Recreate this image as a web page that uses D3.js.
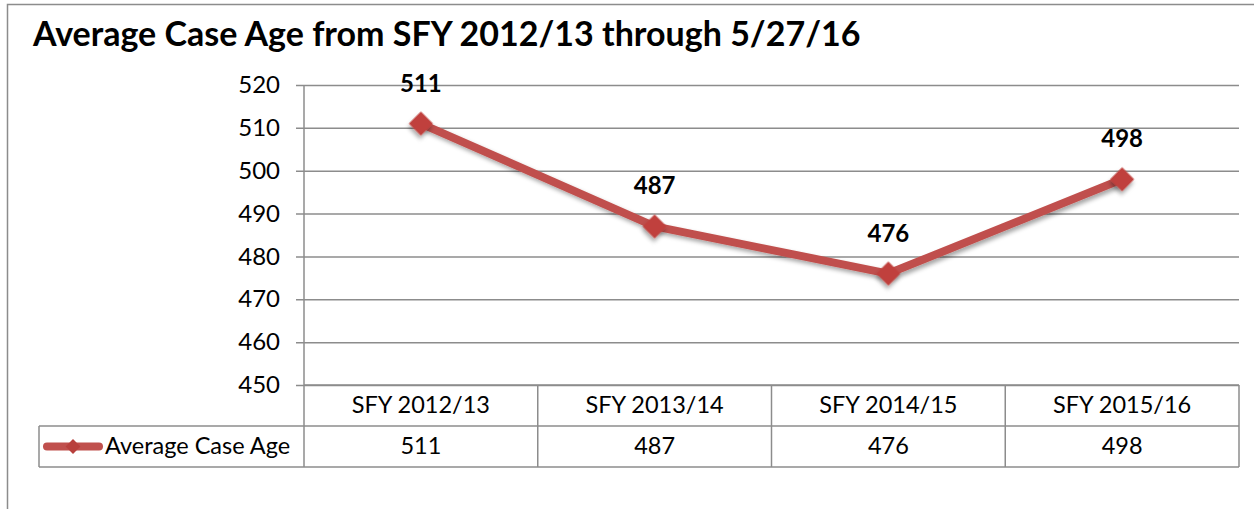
<!DOCTYPE html>
<html>
<head>
<meta charset="utf-8">
<script src="https://cdn.jsdelivr.net/npm/d3@7"></script>
<style>
  body { margin: 0; background: #fff; }
  svg { display: block; font-family: Lato, "Open Sans", sans-serif; }
</style>
</head>
<body>
<svg id="chart" width="1254" height="509"></svg>
<script>
// 数据
const title = "Average Case Age from SFY 2012/13 through 5/27/16";
const categories = ["SFY 2012/13", "SFY 2013/14", "SFY 2014/15", "SFY 2015/16"];
const seriesName = "Average Case Age";
const values = [511, 487, 476, 498];
const yTicks = [450, 460, 470, 480, 490, 500, 510, 520];

const svg = d3.select("#chart");
const lineColor = "#c0504d";
const gridColor = "#8c8c8c";
const tableFont = 23.5;

// 阴影
const defs = svg.append("defs");
const shadow = defs.append("filter").attr("id", "shadow")
  .attr("x", "-50%").attr("y", "-50%").attr("width", "200%").attr("height", "200%");
shadow.append("feDropShadow")
  .attr("dx", 2).attr("dy", 3).attr("stdDeviation", 2)
  .attr("flood-color", "#000").attr("flood-opacity", 0.35);

// 外框（只看得到上边和左边）
svg.append("path")
  .attr("d", "M7.5,509 V4.5 H1254")
  .attr("fill", "none")
  .attr("stroke", gridColor)
  .attr("stroke-width", 1.5);

// 标题
svg.append("text")
  .attr("x", 33).attr("y", 46)
  .attr("font-size", 34).attr("font-weight", "bold")
  .attr("fill", "#000")
  .text(title);

const plotLeft = 304, plotRight = 1239, plotTop = 85, plotBottom = 385;

const x = d3.scaleBand().domain(categories).range([plotLeft, plotRight]);
const y = d3.scaleLinear().domain([450, 520]).range([plotBottom, plotTop]);

// 网格线 + 刻度
const yAxis = d3.axisLeft(y).tickValues(yTicks).tickSize(-(plotRight - plotLeft) - 8).tickPadding(16);
const gy = svg.append("g")
  .attr("transform", `translate(${plotLeft - 8},0)`)
  .call(yAxis);
gy.select(".domain").remove();
gy.selectAll(".tick line").attr("stroke", gridColor).attr("stroke-width", 1.5);
gy.selectAll(".tick text")
  .attr("font-size", 24).attr("fill", "#000")
  .attr("font-family", "Lato, sans-serif");

// 纵轴线
svg.append("line")
  .attr("x1", plotLeft).attr("x2", plotLeft)
  .attr("y1", plotTop).attr("y2", plotBottom)
  .attr("stroke", gridColor).attr("stroke-width", 1.5);

// 数据表
const rowH = 41;
const tableLeft = 39;
const table = svg.append("g").attr("class", "data-table");

// 横线
[[plotLeft, plotBottom], [tableLeft, plotBottom + rowH], [tableLeft, plotBottom + 2 * rowH]].forEach(([x0, yy]) => {
  table.append("line")
    .attr("x1", x0).attr("x2", plotRight)
    .attr("y1", yy).attr("y2", yy)
    .attr("stroke", gridColor).attr("stroke-width", 1.5);
});
// 竖线
const colEdges = categories.map(c => x(c)).concat([plotRight]);
colEdges.forEach(xx => {
  table.append("line")
    .attr("x1", xx).attr("x2", xx)
    .attr("y1", plotBottom).attr("y2", plotBottom + 2 * rowH)
    .attr("stroke", gridColor).attr("stroke-width", 1.5);
});
table.append("line")
  .attr("x1", tableLeft).attr("x2", tableLeft)
  .attr("y1", plotBottom + rowH).attr("y2", plotBottom + 2 * rowH)
  .attr("stroke", gridColor).attr("stroke-width", 1.5);

// 类别
table.selectAll("text.cat")
  .data(categories)
  .join("text")
  .attr("class", "cat")
  .attr("x", d => x(d) + x.bandwidth() / 2)
  .attr("y", plotBottom + 28)
  .attr("text-anchor", "middle")
  .attr("font-size", tableFont)
  .text(d => d);

// 数值
table.selectAll("text.val")
  .data(values)
  .join("text")
  .attr("class", "val")
  .attr("x", (d, i) => x(categories[i]) + x.bandwidth() / 2)
  .attr("y", plotBottom + rowH + 28)
  .attr("text-anchor", "middle")
  .attr("font-size", tableFont)
  .text(d => d);

// 图例
const legY = plotBottom + rowH * 1.5;
table.append("line")
  .attr("x1", 47).attr("x2", 99)
  .attr("y1", legY).attr("y2", legY)
  .attr("stroke", lineColor).attr("stroke-width", 8)
  .attr("stroke-linecap", "round");
table.append("path")
  .attr("d", d3.symbol(d3.symbolSquare, 110)())
  .attr("transform", `translate(73,${legY}) rotate(45)`)
  .attr("fill", "#b8403d");
table.append("text")
  .attr("x", 105).attr("y", plotBottom + rowH + 28)
  .attr("font-size", tableFont)
  .text(seriesName);

// 折线
const pts = values.map((v, i) => [x(categories[i]) + x.bandwidth() / 2, y(v)]);
svg.append("path")
  .attr("d", d3.line()(pts))
  .attr("fill", "none")
  .attr("stroke", lineColor)
  .attr("stroke-width", 8)
  .attr("stroke-linejoin", "round")
  .attr("filter", "url(#shadow)");

// 标记
svg.selectAll("path.marker")
  .data(pts)
  .join("path")
  .attr("class", "marker")
  .attr("d", d3.symbol(d3.symbolSquare, 290)())
  .attr("transform", d => `translate(${d[0]},${d[1]}) rotate(45)`)
  .attr("fill", "#c0403d")
  .attr("filter", "url(#shadow)");

// 数据标签
svg.selectAll("text.label")
  .data(values)
  .join("text")
  .attr("class", "label")
  .attr("x", (d, i) => pts[i][0])
  .attr("y", (d, i) => pts[i][1] - 32)
  .attr("text-anchor", "middle")
  .attr("font-size", 24)
  .attr("font-weight", "bold")
  .text(d => d);
</script>
</body>
</html>
